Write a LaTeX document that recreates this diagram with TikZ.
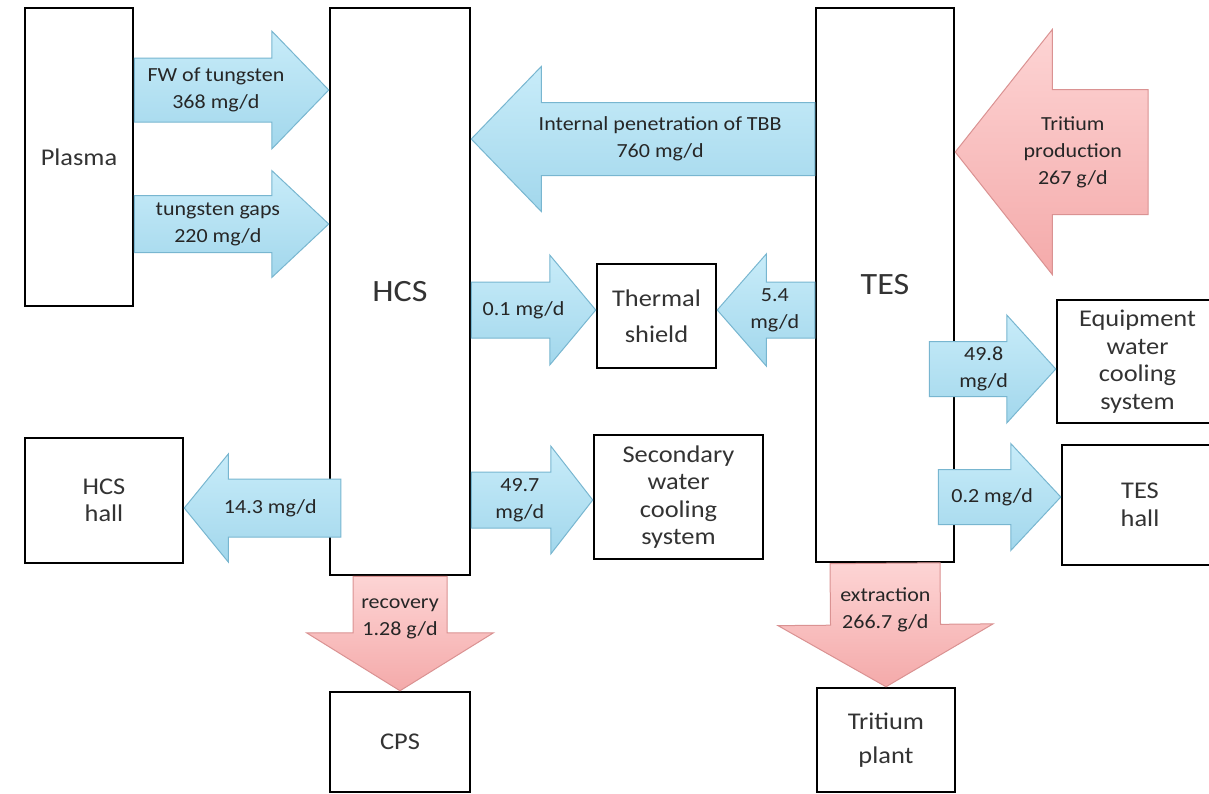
\documentclass[tikz,border=0pt]{standalone}
\usepackage{fontspec}
\setmainfont{Carlito}[FakeStretch=1.1]
\usetikzlibrary{calc}

\definecolor{flowblue}{RGB}{200,236,249}
\definecolor{flowbluedk}{RGB}{162,215,236}
\definecolor{flowblueln}{RGB}{120,182,208}
\definecolor{flowpink}{RGB}{253,212,212}
\definecolor{flowpinkdk}{RGB}{244,170,170}
\definecolor{flowpinkln}{RGB}{218,146,146}

\tikzset{
  unit/.style={draw=black, line width=2.5, fill=white, align=center, inner sep=0pt,
    text=black!80, font=\fontsize{24}{27.5}\selectfont},
  bigunit/.style={unit, font=\fontsize{31}{34}\selectfont},
  bluearrow/.style={top color=flowblue, bottom color=flowbluedk, draw=flowblueln, line width=1},
  pinkarrow/.style={top color=flowpink, bottom color=flowpinkdk, draw=flowpinkln, line width=1},
  flowlabel/.style={align=center, inner sep=0pt, text=black!85, font=\fontsize{20}{27}\selectfont}
}

% #1 style, #2 name, #3 tail, #4 tip, #5 shaft half width, #6 head half width, #7 head length, #8 label place, #9 label
\newcommand{\flowarrow}[9]{%
  \coordinate (#2-hb) at ($#4!#7!#3$);
  \path[#1] ($#3!#5!90:#4$) -- ($(#2-hb)!#5!90:#4$) -- ($(#2-hb)!#6!90:#4$) -- #4
    -- ($(#2-hb)!#6!-90:#4$) -- ($(#2-hb)!#5!-90:#4$) -- ($#3!#5!-90:#4$) -- cycle;
  \node[flowlabel] (#2) at ($#3!#8!#4$) {#9};
}

\begin{document}
\begin{tikzpicture}[x=1pt,y=1pt,yscale=-1,xscale=1]
\useasboundingbox (0,0) rectangle (1209,793);

%Shape: Rectangle
\node[unit, minimum width=108pt, minimum height=298pt] (plasma) at (79,157) {Plasma};
\node[bigunit, minimum width=140pt, minimum height=567pt] (hcs) at (400,291.5) {HCS};
\node[bigunit, minimum width=138pt, minimum height=554pt] (tes) at (885,285) {TES};
\node[unit, minimum width=119pt, minimum height=104pt] (thermal) at (656.5,316) {Thermal\\[9pt]shield};
\node[unit, minimum width=169pt, minimum height=124pt] (secondary) at (678.5,497) {Secondary\\water\\cooling\\system};
\node[unit, minimum width=161pt, minimum height=123pt] (equip) at (1137.5,361.5) {Equipment\\water\\cooling\\system};
\node[unit, minimum width=156pt, minimum height=120pt] (teshall) at (1140,505) {TES\\hall};
\node[unit, minimum width=158pt, minimum height=125pt] (hcshall) at (104,500.5) {HCS\\hall};
\node[unit, minimum width=140pt, minimum height=100pt] (cps) at (400,742) {CPS};
\node[unit, minimum width=138pt, minimum height=104pt] (tplant) at (886,740) {Tritium\\[6pt]plant};

%Shape: Right Arrow
\flowarrow{bluearrow}{fw}{(plasma.east |- 0,90)}{(hcs.west |- 0,90)}{32pt}{59pt}{57pt}{0.42}{FW of tungsten\\368 mg/d}
\flowarrow{bluearrow}{gaps}{(plasma.east |- 0,224)}{(hcs.west |- 0,224)}{28.5pt}{53.5pt}{57pt}{0.43}{tungsten gaps\\220 mg/d}
\flowarrow{bluearrow}{tbb}{(tes.west |- 0,139)}{(hcs.east |- 0,139)}{36.5pt}{72.5pt}{70pt}{0.45}{Internal penetration of TBB\\760 mg/d}
\coordinate (prodtail) at (1148,152);
\flowarrow{pinkarrow}{prod}{(prodtail)}{(tes.east |- 0,152)}{62.5pt}{122.5pt}{97pt}{0.39}{Tritium\\production\\267 g/d}

\flowarrow{bluearrow}{hcsts}{(hcs.east |- 0,310)}{(thermal.west |- 0,310)}{28pt}{55pt}{46pt}{0.42}{0.1 mg/d}
\flowarrow{bluearrow}{tests}{(tes.west |- 0,310)}{(thermal.east |- 0,310)}{28pt}{56pt}{49pt}{0.41}{5.4\\mg/d}
\flowarrow{bluearrow}{hcssec}{(hcs.east |- 0,500)}{(secondary.west |- 0,500)}{28pt}{54pt}{42pt}{0.4}{49.7\\mg/d}
\coordinate (hcshalltail) at ($(hcs.west |- 0,508)+(12,0)$);
\flowarrow{bluearrow}{hcshl}{(hcshalltail)}{(hcshall.east |- 0,508)}{29pt}{54pt}{44pt}{0.45}{14.3 mg/d}

\coordinate (equiptail) at ($(tes.east |- 0,369)+(-26,0)$);
\flowarrow{bluearrow}{tesequip}{(equiptail)}{(equip.west |- 0,369)}{27.5pt}{54pt}{49pt}{0.43}{49.8\\mg/d}
\coordinate (teshalltail) at ($(tes.east |- 0,497)+(-17,0)$);
\flowarrow{bluearrow}{teshl}{(teshalltail)}{(teshall.west |- 0,497)}{27.5pt}{53.5pt}{50pt}{0.44}{0.2 mg/d}

%Shape: Down Arrow
\flowarrow{pinkarrow}{recov}{(hcs.south)}{(cps.north)}{47pt}{93.5pt}{58pt}{0.37}{recovery\\1.28 g/d}
\flowarrow{pinkarrow}{extr}{(tes.south)}{(tplant.north)}{55pt}{107.5pt}{62pt}{0.38}{extraction\\266.7 g/d}

\end{tikzpicture}
\end{document}
